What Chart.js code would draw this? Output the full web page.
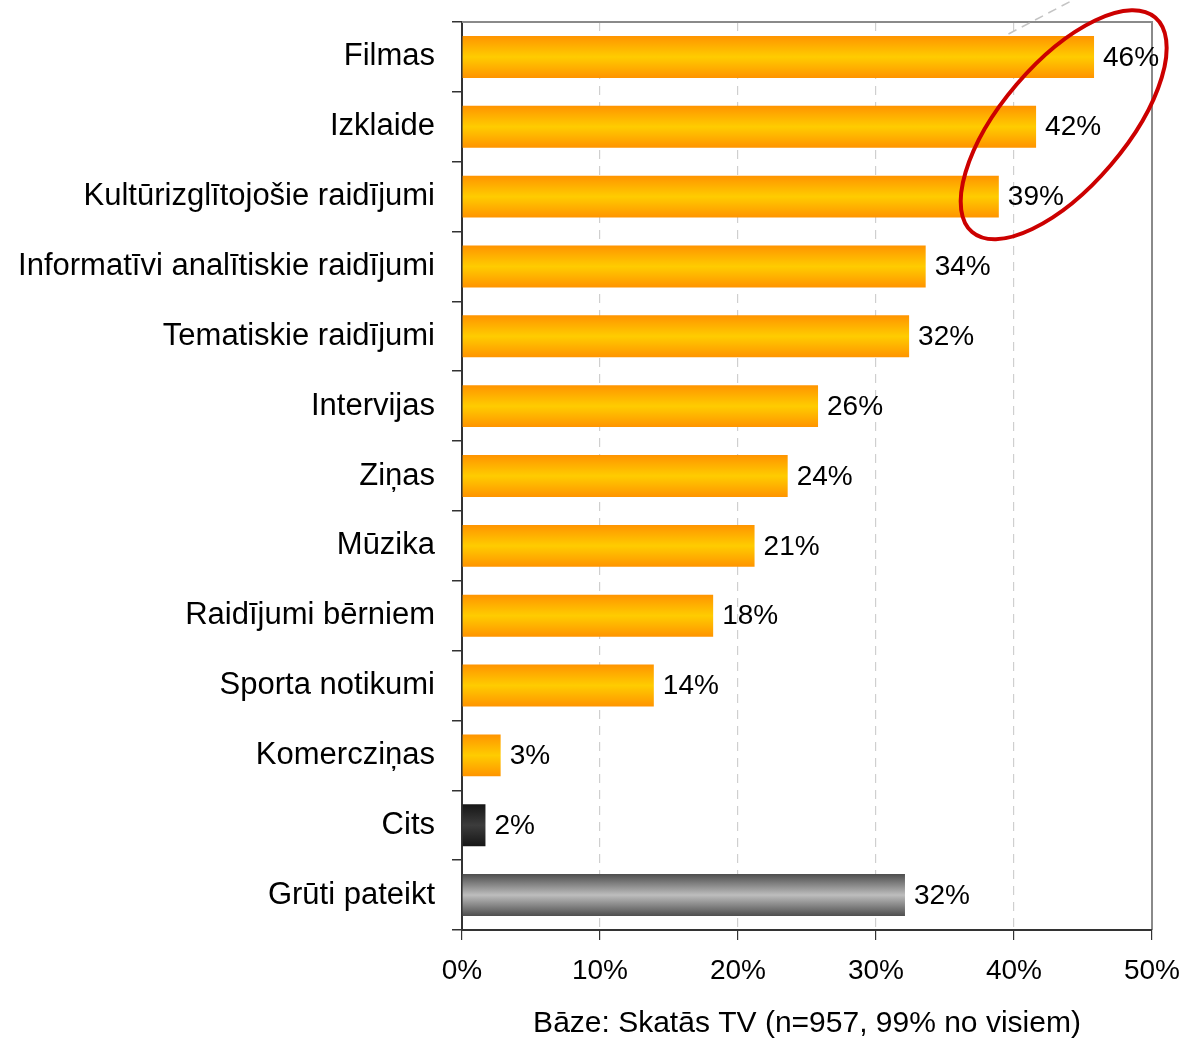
<!DOCTYPE html>
<html>
<head>
<meta charset="utf-8">
<script src="https://cdn.jsdelivr.net/npm/chart.js@4.4.1/dist/chart.umd.min.js"></script>
<style>
  html, body { margin: 0; padding: 0; background: #ffffff; }
  #wrap { width: 1184px; height: 1046px; position: relative; }
</style>
</head>
<body>
<div id="wrap"><canvas id="c" width="1184" height="1046"></canvas></div>
<script>
// ---- data ----
const categories = [
  "Filmas",
  "Izklaide",
  "Kultūrizglītojošie raidījumi",
  "Informatīvi analītiskie raidījumi",
  "Tematiskie raidījumi",
  "Intervijas",
  "Ziņas",
  "Mūzika",
  "Raidījumi bērniem",
  "Sporta notikumi",
  "Komercziņas",
  "Cits",
  "Grūti pateikt"
];
const values = [45.8, 41.6, 38.9, 33.6, 32.4, 25.8, 23.6, 21.2, 18.2, 13.9, 2.8, 1.7, 32.1];
const valueLabels = ["46%", "42%", "39%", "34%", "32%", "26%", "24%", "21%", "18%", "14%", "3%", "2%", "32%"];
const xTicks = [0, 10, 20, 30, 40, 50];
const xTitle = "Bāze: Skatās TV (n=957, 99% no visiem)";

// ---- styles ----
const FONT = "'Liberation Sans', Arial, Helvetica, sans-serif";
const gradStops = {
  orange: ["#ff9400", "#ffcc00", "#ff9400"],
  dark:   ["#161616", "#3c3c3c", "#161616"],
  gray:   ["#4e4e4e", "#bdbdbd", "#4e4e4e"]
};
function kindFor(name) {
  if (name === "Cits") return "dark";
  if (name === "Grūti pateikt") return "gray";
  return "orange";
}
const BAR_PCT = 0.6;

function barGradient(ctx) {
  const chart = ctx.chart;
  const area = chart.chartArea;
  const stops = gradStops[kindFor(categories[ctx.dataIndex])];
  if (!area) return stops[1];
  const yScale = chart.scales.y;
  const yc = yScale.getPixelForValue(ctx.dataIndex);
  const h = (area.bottom - area.top) / categories.length * BAR_PCT;
  const g = chart.ctx.createLinearGradient(0, yc - h / 2, 0, yc + h / 2);
  g.addColorStop(0, stops[0]);
  g.addColorStop(0.5, stops[1]);
  g.addColorStop(1, stops[2]);
  return g;
}

const decorPlugin = {
  id: "decor",
  beforeDatasetsDraw(chart) {
    const { ctx, chartArea: a } = chart;
    ctx.save();
    // top and right frame (gray)
    ctx.strokeStyle = "#8a8a8a";
    ctx.lineWidth = 2;
    ctx.beginPath();
    ctx.moveTo(a.left, a.top);
    ctx.lineTo(a.right, a.top);
    ctx.lineTo(a.right, a.bottom);
    ctx.stroke();
    // bottom axis line (dark, solid)
    ctx.strokeStyle = "#333";
    ctx.lineWidth = 2;
    ctx.beginPath();
    ctx.moveTo(a.left, a.bottom);
    ctx.lineTo(a.right, a.bottom);
    ctx.stroke();
    ctx.restore();
  },
  afterDatasetsDraw(chart) {
    const { ctx } = chart;
    const meta = chart.getDatasetMeta(0);
    const xs = chart.scales.x, ys = chart.scales.y;
    ctx.save();
    // value labels
    ctx.font = "28px " + FONT;
    ctx.fillStyle = "#000";
    ctx.textAlign = "left";
    ctx.textBaseline = "middle";
    meta.data.forEach((el, i) => {
      ctx.fillText(valueLabels[i], el.x + 9, el.y + 1);
    });
    // dashed callout line going off top-right
    const bar0 = meta.data[0];
    const sx = xs.getPixelForValue(39.6);
    const sy = bar0.y - bar0.height / 2 - 2;
    ctx.strokeStyle = "#c4c4c4";
    ctx.lineWidth = 1.5;
    ctx.setLineDash([9, 6]);
    ctx.beginPath();
    ctx.moveTo(sx, sy);
    ctx.lineTo(sx + sy * 1.9, 0);
    ctx.stroke();
    ctx.setLineDash([]);
    // red ellipse around the top three
    const cx = xs.getPixelForValue(43.6);
    const cy = ys.getPixelForValue(1) - 2;
    ctx.strokeStyle = "#cc0000";
    ctx.lineWidth = 4;
    ctx.beginPath();
    ctx.ellipse(cx, cy, 141, 62, -49.5 * Math.PI / 180, 0, Math.PI * 2);
    ctx.stroke();
    ctx.restore();
  }
};

new Chart(document.getElementById("c"), {
  type: "bar",
  data: {
    labels: categories,
    datasets: [{
      data: values,
      backgroundColor: barGradient,
      borderWidth: 0,
      barPercentage: BAR_PCT,
      categoryPercentage: 1.0
    }]
  },
  options: {
    indexAxis: "y",
    responsive: false,
    animation: false,
    devicePixelRatio: 1,
    layout: { padding: { top: 22, right: 32, bottom: 0, left: 0 } },
    plugins: { legend: { display: false }, tooltip: { enabled: false } },
    scales: {
      y: {
        type: "category",
        offset: true,
        afterFit(scale) {
          scale.width = 462;
          scale.paddingTop = 0;
          scale.paddingBottom = 0;
        },
        grid: {
          offset: true,
          drawOnChartArea: false,
          drawTicks: true,
          tickLength: 10,
          color: "#333",
          tickColor: "#333",
          lineWidth: 1.5
        },
        border: { display: true, color: "#333", width: 2 },
        ticks: {
          color: "#000",
          padding: 17,
          font: { family: FONT, size: 31 }
        }
      },
      x: {
        type: "linear",
        min: 0,
        max: 50,
        afterFit(scale) {
          scale.height = 116;
          scale.paddingLeft = 0;
          scale.paddingRight = 0;
        },
        afterBuildTicks(scale) { scale.ticks = xTicks.map(v => ({ value: v })); },
        grid: {
          color: (c) => (c.tick && (c.tick.value === 0 || c.tick.value === 50)) ? "rgba(0,0,0,0)" : "#cfcfcf",
          tickColor: "#333",
          lineWidth: 1.2,
          borderDash: [9, 7],
          tickBorderDash: [],
          tickLength: 10
        },
        border: { display: false, dash: [9, 7], color: "#333", width: 2 },
        ticks: {
          color: "#000",
          padding: 14,
          maxRotation: 0,
          font: { family: FONT, size: 28 },
          callback: (v) => v + "%"
        },
        title: {
          display: true,
          text: xTitle,
          color: "#000",
          font: { family: FONT, size: 30 },
          padding: { top: 0, bottom: 4 }
        }
      }
    }
  },
  plugins: [decorPlugin]
});
</script>
</body>
</html>
